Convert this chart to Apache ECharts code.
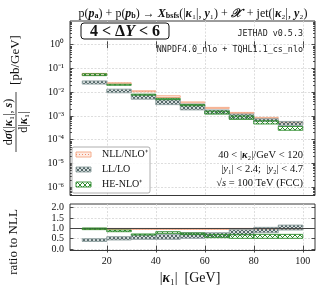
<!DOCTYPE html>
<html><head><meta charset="utf-8">
<script src="https://cdn.jsdelivr.net/npm/echarts@6/dist/echarts.min.js"></script>
<style>html,body{margin:0;padding:0;background:#fff}#c{width:319px;height:288px}</style>
</head><body><div id="c"></div>
<script>
// ---- data ----
const binEdges = [10, 20, 30, 40, 50, 60, 70, 80, 90, 100];
const nllLow  = [0.051, 0.0225, 0.0107, 0.0060, 0.00363, 0.0021, 0.00132, 0.00079, 0.00051];
const nllHigh = [0.062, 0.0250, 0.0115, 0.0071, 0.0039, 0.0023, 0.00141, 0.00087, 0.00056];
const llLow   = [0.022, 0.0095, 0.0051, 0.0030, 0.0018, 0.00126, 0.00076, 0.00058, 0.00040];
const llHigh  = [0.030, 0.0135, 0.0079, 0.0048, 0.0032, 0.0018, 0.0012, 0.00076, 0.00059];
const heLow   = [0.050, 0.0197, 0.0075, 0.0049, 0.0027, 0.0012, 0.00072, 0.00046, 0.00025];
const heHigh  = [0.060, 0.0216, 0.0083, 0.0055, 0.0030, 0.0016, 0.00100, 0.00063, 0.00036];
const rNllLow  = [0.98, 0.98, 0.98, 0.98, 0.98, 0.98, 0.98, 0.98, 0.98];
const rNllHigh = [1.0, 1.0, 1.0, 1.0, 1.0, 1.0, 1.0, 1.0, 1.0];
const rLlLow   = [0.37, 0.44, 0.47, 0.47, 0.52, 0.57, 0.68, 0.79, 0.92];
const rLlHigh  = [0.50, 0.60, 0.68, 0.71, 0.79, 0.79, 0.94, 1.05, 1.16];
const rHeLow   = [0.94, 0.84, 0.68, 0.76, 0.70, 0.55, 0.52, 0.52, 0.52];
const rHeHigh  = [1.02, 0.92, 0.73, 0.84, 0.78, 0.71, 0.71, 0.71, 0.71];
const xTicks = [20, 40, 60, 80, 100];
const yExpTicks = [-6, -5, -4, -3, -2, -1, 0];
const ratioTicks = [0, 0.5, 1, 1.5, 2];
const legendNames = ['NLL/NLO⁺', 'LL/LO', 'HE-NLO⁺'];

// ---- patterns ----
function makePattern(size, draw) {
  const c = document.createElement('canvas'); c.width = c.height = size;
  const g = c.getContext('2d'); draw(g, size); return { image: c, repeat: 'repeat' };
}
const patNLL = makePattern(3, (g) => { g.fillStyle = 'rgba(250,200,180,0.35)'; g.fillRect(0,0,3,3); g.fillStyle = '#f08a6a'; g.fillRect(1,1,1,1); });
const patLL = makePattern(4, (g) => { g.fillStyle = 'rgba(170,185,185,0.5)'; g.fillRect(0,0,4,4); g.fillStyle = '#56696a';
  for (let i = 0; i < 4; i++) { g.fillRect(i, i, 1, 1); g.fillRect(3 - i, i, 1, 1); } });
const patHE = makePattern(5, (g) => { g.fillStyle = '#2e8b2e';
  for (let i = 0; i < 5; i++) { g.fillRect(i, i, 1, 1); g.fillRect(4 - i, i, 1, 1); } });

const SERIF = 'Liberation Serif';
function toRows(lo, hi, log) {
  return lo.map((v, i) => [binEdges[i], binEdges[i + 1], log ? Math.log10(v) : v, log ? Math.log10(hi[i]) : hi[i]]);
}
function band(name, xi, yi, data, pat, edge, z, extra) {
  return Object.assign({
    type: 'custom', name, xAxisIndex: xi, yAxisIndex: yi, z, clip: true, data,
    encode: { x: [0, 1], y: [2, 3] },
    renderItem: (params, api) => {
      const p0 = api.coord([api.value(0), api.value(3)]);
      const p1 = api.coord([api.value(1), api.value(2)]);
      return { type: 'rect', shape: { x: p0[0], y: p0[1], width: p1[0] - p0[0], height: Math.max(p1[1] - p0[1], 1) },
        style: { fill: pat, stroke: edge, lineWidth: 0.9 } };
    }
  }, extra || {});
}

const minorLog = [];
for (let n = -7; n <= 0; n++) for (let k = 2; k <= 9; k++) { const v = n + Math.log10(k); if (v > -6.35 && v < 1) minorLog.push(v); }

const supMap = { '-': '⁻', '0': '⁰', '1': '¹', '2': '²', '3': '³', '4': '⁴', '5': '⁵', '6': '⁶' };
const gridLine = { show: true, lineStyle: { color: '#d4d4d4', width: 0.8, type: [2, 1.5] } };
const tickStyle = { color: '#222', width: 0.8 };

const G0 = { left: 70, top: 21, width: 245, height: 174.5 };
const G1 = { left: 70, top: 204, width: 245, height: 46.5 };

const xCommon = (gi, pos, labels) => ({
  type: 'value', gridIndex: gi, min: 5, max: 105, position: pos,
  axisLine: { show: false },
  axisTick: { show: true, inside: true, length: 3.5, customValues: xTicks, lineStyle: tickStyle },
  axisLabel: labels ? { show: true, customValues: xTicks, fontFamily: SERIF, fontSize: 10, color: '#111', margin: 6 } : { show: false },
  splitLine: pos === 'bottom' ? gridLine : { show: false }
});

const R = (fs, extra) => Object.assign({ fontFamily: SERIF, fontSize: fs, fill: '#111' }, extra || {});

const option = {
  animation: false,
  grid: [Object.assign({ show: true, borderColor: '#222', borderWidth: 0.9 }, G0),
         Object.assign({ show: true, borderColor: '#222', borderWidth: 0.9 }, G1)],
  xAxis: [xCommon(0, 'bottom', false), xCommon(0, 'top', false), xCommon(1, 'bottom', true), xCommon(1, 'top', false)],
  yAxis: [
    { type: 'value', gridIndex: 0, min: -6.35, max: 1, position: 'left', axisLine: { show: false },
      axisTick: { show: true, inside: true, length: 3.5, customValues: yExpTicks, lineStyle: tickStyle },
      axisLabel: { customValues: yExpTicks, fontFamily: SERIF, fontSize: 10, color: '#111', margin: 6,
        formatter: (v) => '10' + String(Math.round(v)).split('').map(c => supMap[c]).join('') },
      splitLine: gridLine },
    { type: 'value', gridIndex: 0, min: -6.35, max: 1, position: 'left', axisLine: { show: false },
      axisTick: { show: true, inside: true, length: 2, customValues: minorLog, lineStyle: tickStyle },
      axisLabel: { show: false }, splitLine: { show: false } },
    { type: 'value', gridIndex: 0, min: -6.35, max: 1, position: 'right', axisLine: { show: false },
      axisTick: { show: true, inside: true, length: 3.5, customValues: yExpTicks, lineStyle: tickStyle },
      axisLabel: { show: false }, splitLine: { show: false } },
    { type: 'value', gridIndex: 0, min: -6.35, max: 1, position: 'right', axisLine: { show: false },
      axisTick: { show: true, inside: true, length: 2, customValues: minorLog, lineStyle: tickStyle },
      axisLabel: { show: false }, splitLine: { show: false } },
    { type: 'value', gridIndex: 1, min: -0.07, max: 2.18, position: 'left', axisLine: { show: false },
      axisTick: { show: true, inside: true, length: 3.5, customValues: ratioTicks, lineStyle: tickStyle },
      axisLabel: { customValues: ratioTicks, fontFamily: SERIF, fontSize: 10, color: '#111', margin: 6, formatter: (v) => v.toFixed(1) },
      splitLine: gridLine },
    { type: 'value', gridIndex: 1, min: -0.07, max: 2.18, position: 'right', axisLine: { show: false },
      axisTick: { show: true, inside: true, length: 3.5, customValues: ratioTicks, lineStyle: tickStyle },
      axisLabel: { show: false }, splitLine: { show: false } }
  ],
  series: [
    band('NLL', 0, 0, toRows(nllLow, nllHigh, true), patNLL, '#f4a582', 3),
    band('LL', 0, 0, toRows(llLow, llHigh, true), patLL, '#8fa0a0', 4),
    band('HE', 0, 0, toRows(heLow, heHigh, true), patHE, '#2e8b2e', 5),
    band('rNLL', 2, 4, toRows(rNllLow, rNllHigh, false), patNLL, '#f4a582', 3, {
      markLine: { silent: true, symbol: 'none', label: { show: false }, lineStyle: { color: '#444', width: 1, type: 'solid' }, data: [{ yAxis: 1 }] } }),
    band('rLL', 2, 4, toRows(rLlLow, rLlHigh, false), patLL, '#8fa0a0', 4),
    band('rHE', 2, 4, toRows(rHeLow, rHeHigh, false), patHE, '#2e8b2e', 5)
  ],
  graphic: [
    { type: 'text', x: 193, y: 12, z: 10, style: {
      text: '{r|p(}{i|p}{s|a}{r|) + p(}{i|p}{s|b}{r|) → }{i|X}{s|bsfs}{r|(|}{i|κ}{r|₁|, }{i|y}{r|₁) + }{i|𝒳}{r|  + jet(|}{i|κ}{r|₂|, }{i|y}{r|₂)}',
      align: 'center', verticalAlign: 'middle',
      rich: {
        r: R(12, { verticalAlign: 'bottom', lineHeight: 15 }),
        i: R(12, { fontStyle: 'italic', fontWeight: 'bold', verticalAlign: 'bottom', lineHeight: 15 }),
        s: R(8, { fontWeight: 'bold', verticalAlign: 'bottom', lineHeight: 5 })
      } } },
    { type: 'rect', z: 10, shape: { x: 81, y: 23, width: 88, height: 16, r: 3 }, style: { fill: '#fff', stroke: '#111', lineWidth: 1 } },
    { type: 'text', z: 11, x: 125, y: 31.5, style: { text: '{r|4 < Δ}{i|Y}{r| < 6}', align: 'center', verticalAlign: 'middle',
      rich: { r: R(16, { fontWeight: 'bold' }), i: R(16, { fontWeight: 'bold', fontStyle: 'italic' }) } } },
    { type: 'text', z: 10, x: 303, y: 34, style: { text: 'JETHAD v0.5.3', align: 'right', verticalAlign: 'middle', fontFamily: 'DejaVu Sans Mono', fontSize: 8.4, fill: '#222' } },
    { type: 'text', z: 10, x: 303, y: 50, style: { text: 'NNPDF4.0_nlo + TQHL1.1_cs_nlo', align: 'right', verticalAlign: 'middle', fontFamily: 'DejaVu Sans Mono', fontSize: 8.4, fill: '#222' } },
    { type: 'text', z: 10, x: 303, y: 155, style: { text: '{r|40 < |}{i|κ}{r|₂|/GeV < 120}', align: 'right', verticalAlign: 'middle',
      rich: { r: R(10.5), i: R(10.5, { fontStyle: 'italic', fontWeight: 'bold' }) } } },
    { type: 'text', z: 10, x: 303, y: 169, style: { text: '{r||}{i|y}{r|₁| < 2.4;  |}{i|y}{r|₂| < 4.7}', align: 'right', verticalAlign: 'middle',
      rich: { r: R(10.5), i: R(10.5, { fontStyle: 'italic' }) } } },
    { type: 'text', z: 10, x: 303, y: 183, style: { text: '{r|√}{o|s}{r| = 100 TeV (FCC)}', align: 'right', verticalAlign: 'middle',
      rich: { r: R(10.5), o: R(10.5, { fontStyle: 'italic' }) } } },
    // legend
    { type: 'rect', z: 10, shape: { x: 72, y: 147, width: 78, height: 46, r: 2 }, style: { fill: 'rgba(255,255,255,0.85)', stroke: '#999', lineWidth: 0.8 } },
    { type: 'rect', z: 11, shape: { x: 76, y: 152, width: 15, height: 5 }, style: { fill: patNLL, stroke: '#f4a582', lineWidth: 0.9 } },
    { type: 'rect', z: 11, shape: { x: 76, y: 167, width: 15, height: 5 }, style: { fill: patLL, stroke: '#8fa0a0', lineWidth: 0.9 } },
    { type: 'rect', z: 11, shape: { x: 76, y: 182, width: 15, height: 5 }, style: { fill: patHE, stroke: '#2e8b2e', lineWidth: 0.9 } },
    { type: 'text', z: 11, x: 102, y: 154.5, style: { text: legendNames[0], verticalAlign: 'middle', fontFamily: SERIF, fontSize: 10, fill: '#111' } },
    { type: 'text', z: 11, x: 102, y: 169.5, style: { text: legendNames[1], verticalAlign: 'middle', fontFamily: SERIF, fontSize: 10, fill: '#111' } },
    { type: 'text', z: 11, x: 102, y: 184.5, style: { text: legendNames[2], verticalAlign: 'middle', fontFamily: SERIF, fontSize: 10, fill: '#111' } },
    // y axis label (main)
    { type: 'group', x: 16, y: 122, rotation: Math.PI / 2, z: 10, children: [
      { type: 'text', x: 0, y: -1.5, style: { text: '{r|d}{i|σ}{r|(|}{i|κ}{r|₁|, }{i|s}{r|)}', align: 'center', verticalAlign: 'bottom',
        rich: { r: R(12), i: R(12, { fontStyle: 'italic', fontWeight: 'bold' }) } } },
      { type: 'line', shape: { x1: -30, y1: 0, x2: 30, y2: 0 }, style: { stroke: '#111', lineWidth: 0.8 } },
      { type: 'text', x: 0, y: 1.5, style: { text: '{r|d|}{i|κ}{r|₁|}', align: 'center', verticalAlign: 'top',
        rich: { r: R(12), i: R(12, { fontStyle: 'italic', fontWeight: 'bold' }) } } },
      { type: 'text', x: 62, y: 0, style: { text: '[pb/GeV]', align: 'center', verticalAlign: 'middle', fontFamily: SERIF, fontSize: 13, fill: '#111' } }
    ] },
    { type: 'text', z: 10, x: 14, y: 242, rotation: Math.PI / 2, style: { text: 'ratio to NLL', align: 'center', verticalAlign: 'middle', fontFamily: SERIF, fontSize: 13, fill: '#111' } },
    { type: 'text', z: 10, x: 190, y: 278, style: { text: '{r||}{i|κ}{r|₁|  [GeV]}', align: 'center', verticalAlign: 'middle',
      rich: { r: R(14), i: R(14, { fontStyle: 'italic', fontWeight: 'bold' }) } } }
  ]
};
const chart = echarts.init(document.getElementById('c'), null, { renderer: 'canvas' });
chart.setOption(option);
</script>
</body></html>
